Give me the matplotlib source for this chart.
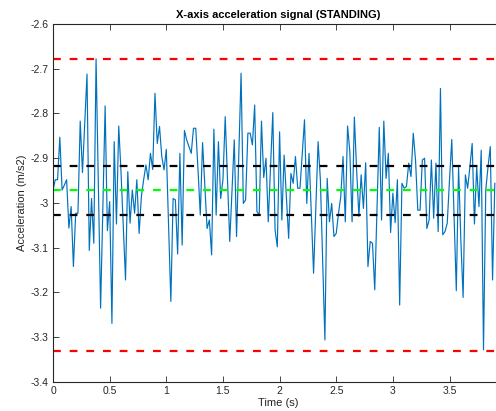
"""
X-axis acceleration signal for the STANDING activity, with mean,
mean +/- std and min/max reference lines (MATLAB-like look).
"""
import numpy as np
import matplotlib
matplotlib.use("Agg")
import matplotlib.pyplot as plt

# sampling rate of the accelerometer (Hz)
fs = 50

# acceleration samples (m/s2)
acc_x = [
    -2.971, -2.948, -2.948, -2.853, -2.971, -2.960, -2.948, -3.056, -3.008, -3.142,
    -3.023, -3.023, -2.817, -2.932, -2.822, -2.712, -3.106, -2.990, -3.090, -2.678,
    -2.956, -3.235, -3.008, -2.783, -3.062, -2.997, -3.269, -2.863, -3.047, -2.828,
    -2.930, -3.053, -3.172, -2.930, -3.045, -2.971, -3.023, -2.948, -3.068, -2.986,
    -2.948, -2.915, -2.948, -2.889, -2.925, -2.755, -2.867, -2.829, -2.896, -2.926,
    -2.880, -3.053, -3.220, -2.990, -2.993, -3.114, -2.889, -3.094, -2.838, -2.859,
    -2.874, -2.889, -2.833, -2.833, -2.926, -3.027, -2.865, -2.963, -3.057, -3.038,
    -3.116, -2.835, -3.027, -2.863, -2.990, -2.948, -2.807, -2.948, -3.086, -2.971,
    -2.859, -3.075, -2.896, -2.710, -3.001, -2.993, -2.844, -2.844, -2.870, -2.781,
    -3.019, -3.027, -2.817, -2.943, -2.900, -3.042, -2.919, -2.798, -3.060, -3.098,
    -2.841, -3.038, -2.893, -2.986, -3.079, -2.934, -2.956, -2.896, -2.967, -2.967,
    -2.889, -2.814, -3.001, -2.889, -3.023, -3.157, -3.008, -2.863, -2.948, -3.127,
    -3.306, -2.945, -3.042, -3.001, -3.075, -3.068, -3.023, -2.986, -2.896, -3.042,
    -2.828, -2.885, -3.042, -2.808, -2.926, -3.030, -2.937, -3.012, -2.910, -3.142,
    -3.086, -3.090, -3.194, -3.008, -2.831, -3.038, -2.817, -2.945, -2.889, -3.066,
    -2.978, -3.044, -2.948, -3.228, -2.956, -2.967, -2.963, -2.911, -2.941, -2.844,
    -2.904, -3.016, -3.016, -2.904, -2.900, -3.057, -3.038, -2.904, -3.034, -2.911,
    -3.064, -2.744, -3.071, -3.064, -3.045, -2.948, -2.858, -3.030, -3.196, -2.919,
    -3.083, -3.211, -2.937, -2.967, -2.919, -2.867, -3.047, -2.919, -3.008, -2.882,
    -3.328, -2.971, -2.919, -2.874, -3.172, -2.956,
]

# reference levels shown as dashed lines
acc_max = -2.678
acc_min = -3.330
acc_mean = -2.972
acc_std = 0.055

n_total = 200  # full window length, the plot is clipped on the right
xticks = [0, 0.5, 1, 1.5, 2, 2.5, 3, 3.5]
xticklabels = ["0", "0.5", "1", "1.5", "2", "2.5", "3", "3.5"]
yticks = [-3.4, -3.3, -3.2, -3.1, -3.0, -2.9, -2.8, -2.7, -2.6]
yticklabels = ["-3.4", "-3.3", "-3.2", "-3.1", "-3", "-2.9", "-2.8", "-2.7", "-2.6"]

plt.rcParams['font.family'] = ['Liberation Sans', 'DejaVu Sans']

t = np.arange(len(acc_x)) / fs
t_end = (n_total - 1) / fs

fig = plt.figure(figsize=(4.96, 4.11), dpi=100)
ax = fig.add_axes([0.1069, 0.0706, 0.909, 0.871])

ax.plot(t, acc_x, color='#0072BD', lw=0.85)

dash = (3.5, 4.0)
ax.axhline(acc_max, color='#FF0000', lw=1.6, dashes=dash)
ax.axhline(acc_min, color='#FF0000', lw=1.6, dashes=dash)
ax.axhline(acc_mean + acc_std, color='black', lw=1.6, dashes=dash)
ax.axhline(acc_mean - acc_std, color='black', lw=1.6, dashes=dash)
ax.axhline(acc_mean, color='#00FF00', lw=1.6, dashes=dash)

ax.set_xlim(0, t_end)
ax.set_ylim(-3.4, -2.6)
ax.set_xticks(xticks)
ax.set_xticklabels(xticklabels)
ax.set_yticks(yticks)
ax.set_yticklabels(yticklabels)

axis_col = '#262626'
for side in ax.spines.values():
    side.set_color(axis_col)
    side.set_linewidth(0.8)
ax.tick_params(direction='in', length=4, width=0.6, colors=axis_col,
               labelsize=7.5, top=True, right=True, pad=3)

ax.set_title("X-axis acceleration signal (STANDING)", fontsize=8,
             fontweight='bold', pad=4)
ax.set_xlabel("Time (s)", fontsize=8, labelpad=1, color=axis_col)
ax.set_ylabel("Acceleration (m/s2)", fontsize=8, labelpad=3, color=axis_col)

fig.savefig("out.png", dpi=100)
